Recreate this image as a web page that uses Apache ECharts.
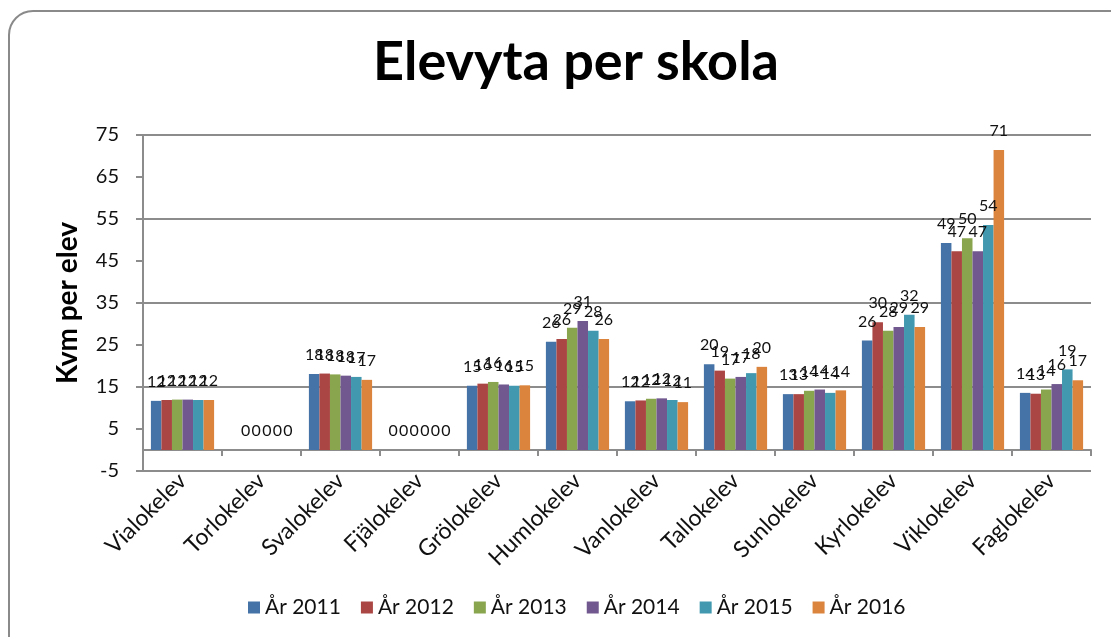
<!DOCTYPE html>
<html>
<head>
<meta charset="utf-8">
<script src="https://cdn.jsdelivr.net/npm/echarts@6/dist/echarts.min.js"></script>
<style>
html,body{margin:0;padding:0;background:#fff;}
#chart{width:1111px;height:637px;}
</style>
</head>
<body>
<div id="chart"></div>
<script>
const categories = ['Vialokelev','Torlokelev','Svalokelev','Fjälokelev','Grölokelev','Humlokelev','Vanlokelev','Tallokelev','Sunlokelev','Kyrlokelev','Viklokelev','Faglokelev'];
const seriesNames = ['År 2011','År 2012','År 2013','År 2014','År 2015','År 2016'];
const y2011 = [11.7, null, 18.1, 0, 15.3, 25.8, 11.6, 20.4, 13.3, 26.1, 49.3, 13.6];
const y2012 = [11.9, 0, 18.2, 0, 15.8, 26.4, 11.8, 18.9, 13.3, 30.4, 47.3, 13.4];
const y2013 = [12.0, 0, 18.0, 0, 16.2, 29.1, 12.2, 17.0, 14.1, 28.4, 50.4, 14.4];
const y2014 = [12.0, 0, 17.7, 0, 15.6, 30.7, 12.3, 17.4, 14.4, 29.3, 47.3, 15.7];
const y2015 = [11.9, 0, 17.4, 0, 15.3, 28.4, 11.9, 18.3, 13.6, 32.2, 53.6, 19.2];
const y2016 = [11.9, 0, 16.7, 0, 15.4, 26.4, 11.4, 19.8, 14.2, 29.3, 71.4, 16.6];
const yTickLabels = [-5, 5, 15, 25, 35, 45, 55, 65, 75];
const colors = ['#4573A7','#AA4643','#89A54E','#71588F','#4198AF','#DB843D'];

const allValues = [y2011, y2012, y2013, y2014, y2015, y2016];
const FONT = 'Lato';
const chart = echarts.init(document.getElementById('chart'), null, {renderer: 'canvas'});

const series = seriesNames.map((name, i) => ({
  name: name,
  type: 'bar',
  data: allValues[i],
  barGap: '0%',
  barCategoryGap: '20%',
  itemStyle: {color: colors[i]},
  label: {
    show: true,
    position: 'top',
    distance: 11,
    fontFamily: FONT,
    fontSize: 16,
    color: '#111',
    formatter: p => (p.value == null ? '' : String(Math.round(p.value)))
  },
  emphasis: {disabled: true}
}));

chart.setOption({
  animation: false,
  color: colors,
  graphic: [{
    type: 'rect',
    shape: {x: 9, y: 11, width: 1140, height: 660, r: 24},
    style: {fill: 'none', stroke: '#8a8a8a', lineWidth: 2},
    silent: true, z: -10
  }],
  title: {
    text: 'Elevyta per skola',
    left: 571,
    top: 31,
    textAlign: 'center',
    textStyle: {fontFamily: FONT, fontWeight: 'bold', fontSize: 54, color: '#000'}
  },
  legend: {
    data: seriesNames,
    left: 243,
    top: 592,
    itemWidth: 12,
    itemHeight: 12,
    itemGap: 20,
    icon: 'rect',
    textStyle: {fontFamily: FONT, fontSize: 21, color: '#111'}
  },
  grid: {left: 143, right: 20, top: 135, bottom: 166, containLabel: false},
  xAxis: {
    type: 'category',
    data: categories,
    axisLine: {onZero: true, lineStyle: {color: '#8c8c8c', width: 2}},
    axisTick: {show: true, length: 6, lineStyle: {color: '#8c8c8c', width: 2}},
    axisLabel: {
      rotate: 45,
      margin: 6,
      interval: 0,
      fontFamily: FONT,
      fontSize: 23,
      color: '#111'
    },
    splitLine: {show: false}
  },
  yAxis: {
    type: 'value',
    min: -5,
    max: 75,
    interval: 5,
    name: 'Kvm per elev',
    nameLocation: 'middle',
    nameRotate: 90,
    nameGap: 61,
    nameTextStyle: {fontFamily: FONT, fontWeight: 'bold', fontSize: 28, color: '#000'},
    axisLine: {show: true, lineStyle: {color: '#8c8c8c', width: 2}},
    axisTick: {show: true, length: 7, customValues: yTickLabels, lineStyle: {color: '#8c8c8c', width: 2}},
    axisLabel: {
      customValues: yTickLabels,
      margin: 24,
      fontFamily: FONT,
      fontSize: 20,
      color: '#111'
    },
    splitLine: {show: true, lineStyle: {color: ['#8c8c8c', 'rgba(0,0,0,0)'], width: 2}}
  },
  series: series
});
</script>
</body>
</html>
